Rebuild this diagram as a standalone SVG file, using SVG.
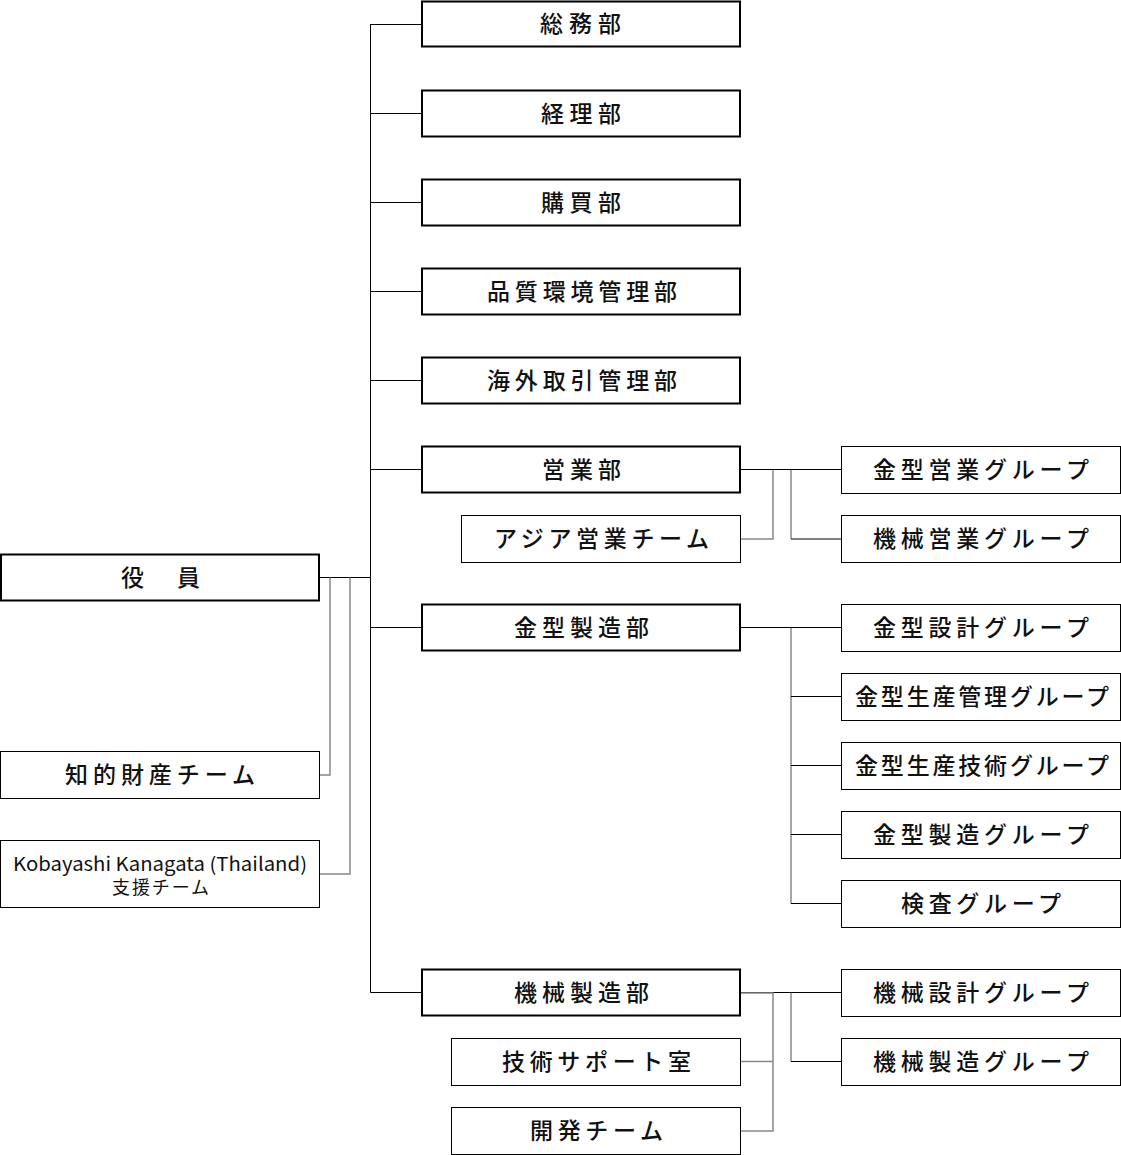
<svg xmlns="http://www.w3.org/2000/svg" width="1121" height="1155" viewBox="0 0 1121 1155">
<style>
.bg{fill:#fff}
.thick{fill:#fff;stroke:#000;stroke-width:2}
.thin{fill:#fff;stroke:#000;stroke-width:1}
.k{stroke:#000;stroke-width:1;fill:none}
.g{stroke:#888;stroke-width:1.5;fill:none}
text{font-family:"Noto Sans CJK JP","Noto Sans",sans-serif;font-size:23px;font-weight:500;fill:#111}
.s{font-size:18px;font-weight:400}
</style>
<rect class="bg" x="0" y="0" width="1121" height="1155"/>
<g id="connectors">
<line class="k" x1="370.5" y1="24" x2="370.5" y2="992.5"/>
<line class="k" x1="370.5" y1="24.5" x2="422" y2="24.5"/>
<line class="k" x1="370.5" y1="113.5" x2="422" y2="113.5"/>
<line class="k" x1="370.5" y1="202.5" x2="422" y2="202.5"/>
<line class="k" x1="370.5" y1="291.5" x2="422" y2="291.5"/>
<line class="k" x1="370.5" y1="380.5" x2="422" y2="380.5"/>
<line class="k" x1="370.5" y1="469.5" x2="422" y2="469.5"/>
<line class="k" x1="370.5" y1="627.5" x2="422" y2="627.5"/>
<line class="k" x1="370.5" y1="992.5" x2="422" y2="992.5"/>
<line class="k" x1="320" y1="577.5" x2="370.5" y2="577.5"/>
<polyline class="g" points="330,577.5 330,775 320,775"/>
<polyline class="g" points="350,577.5 350,874 320,874"/>
<line class="k" x1="741" y1="469.5" x2="841" y2="469.5"/>
<polyline class="g" points="773,470 773,539 741,539"/>
<line class="g" x1="791" y1="470" x2="791" y2="539"/>
<line class="k" x1="791" y1="539" x2="841" y2="539"/>
<line class="k" x1="741" y1="627.5" x2="841" y2="627.5"/>
<line class="g" x1="791" y1="628" x2="791" y2="903.5"/>
<line class="k" x1="791" y1="696.5" x2="841" y2="696.5"/>
<line class="k" x1="791" y1="765.5" x2="841" y2="765.5"/>
<line class="k" x1="791" y1="834.5" x2="841" y2="834.5"/>
<line class="k" x1="791" y1="903.5" x2="841" y2="903.5"/>
<line class="k" x1="741" y1="992.5" x2="841" y2="992.5"/>
<polyline class="g" points="741,993 773,993 773,1131 741,1131"/>
<line class="g" x1="741" y1="1061.5" x2="773" y2="1061.5"/>
<line class="g" x1="791" y1="993" x2="791" y2="1061.5"/>
<line class="k" x1="791" y1="1061.5" x2="841" y2="1061.5"/>
</g>
<g id="yakuin"><rect class="thick" x="1" y="554.5" width="318" height="46"/><text x="121" y="586" textLength="79" lengthAdjust="spacing">役　員</text></g>
<g id="chiteki"><rect class="thin" x="0.5" y="751.5" width="319" height="47"/><text x="65" y="783" textLength="190" lengthAdjust="spacing">知的財産チーム</text></g>
<g id="thailand"><rect class="thin" x="0.5" y="840.5" width="319" height="67"/><text class="s" x="160" y="871" text-anchor="middle" textLength="294" lengthAdjust="spacingAndGlyphs" style="font-size:19px">Kobayashi Kanagata (Thailand)</text><text class="s" x="112" y="894" textLength="97" lengthAdjust="spacing">支援チーム</text></g>
<g id="soumu"><rect class="thick" x="422" y="1.5" width="318" height="45"/><text x="540" y="32" textLength="81" lengthAdjust="spacing">総務部</text></g>
<g id="keiri"><rect class="thick" x="422" y="90.5" width="318" height="46"/><text x="541" y="121.5" textLength="80" lengthAdjust="spacing">経理部</text></g>
<g id="koubai"><rect class="thick" x="422" y="179.5" width="318" height="46"/><text x="541" y="210.5" textLength="80" lengthAdjust="spacing">購買部</text></g>
<g id="hinshitsu"><rect class="thick" x="422" y="268.5" width="318" height="46"/><text x="487" y="299.5" textLength="190" lengthAdjust="spacing">品質環境管理部</text></g>
<g id="kaigai"><rect class="thick" x="422" y="357.5" width="318" height="46"/><text x="487" y="388.5" textLength="190" lengthAdjust="spacing">海外取引管理部</text></g>
<g id="eigyo"><rect class="thick" x="422" y="446.5" width="318" height="46"/><text x="542" y="477.5" textLength="79" lengthAdjust="spacing">営業部</text></g>
<g id="asia"><rect class="thin" x="461.5" y="515.5" width="279" height="47"/><text x="494" y="547" textLength="215" lengthAdjust="spacing">アジア営業チーム</text></g>
<g id="kanagata"><rect class="thick" x="422" y="604.5" width="318" height="46"/><text x="514" y="635.5" textLength="135" lengthAdjust="spacing">金型製造部</text></g>
<g id="kikai"><rect class="thick" x="422" y="969.5" width="318" height="46"/><text x="514" y="1000.5" textLength="135" lengthAdjust="spacing">機械製造部</text></g>
<g id="gijutsu"><rect class="thin" x="451.5" y="1038.5" width="289" height="47"/><text x="502" y="1070" textLength="189" lengthAdjust="spacing">技術サポート室</text></g>
<g id="kaihatsu"><rect class="thin" x="451.5" y="1107.5" width="289" height="47"/><text x="530" y="1139" textLength="133" lengthAdjust="spacing">開発チーム</text></g>
<g id="kg-eigyo"><rect class="thin" x="841.5" y="446.5" width="279" height="47"/><text x="873" y="478" textLength="216" lengthAdjust="spacing">金型営業グループ</text></g>
<g id="kk-eigyo"><rect class="thin" x="841.5" y="515.5" width="279" height="47"/><text x="873" y="547" textLength="216" lengthAdjust="spacing">機械営業グループ</text></g>
<g id="kg-sekkei"><rect class="thin" x="841.5" y="604.5" width="279" height="47"/><text x="873" y="636" textLength="216" lengthAdjust="spacing">金型設計グループ</text></g>
<g id="kg-seisankanri"><rect class="thin" x="841.5" y="673.5" width="279" height="47"/><text x="855" y="705" textLength="254" lengthAdjust="spacing">金型生産管理グループ</text></g>
<g id="kg-seisangijutsu"><rect class="thin" x="841.5" y="742.5" width="279" height="47"/><text x="855" y="774" textLength="254" lengthAdjust="spacing">金型生産技術グループ</text></g>
<g id="kg-seizou"><rect class="thin" x="841.5" y="811.5" width="279" height="47"/><text x="873" y="843" textLength="216" lengthAdjust="spacing">金型製造グループ</text></g>
<g id="kensa"><rect class="thin" x="841.5" y="880.5" width="279" height="47"/><text x="901" y="912" textLength="160" lengthAdjust="spacing">検査グループ</text></g>
<g id="kk-sekkei"><rect class="thin" x="841.5" y="969.5" width="279" height="47"/><text x="873" y="1001" textLength="216" lengthAdjust="spacing">機械設計グループ</text></g>
<g id="kk-seizou"><rect class="thin" x="841.5" y="1038.5" width="279" height="47"/><text x="873" y="1070" textLength="216" lengthAdjust="spacing">機械製造グループ</text></g>
</svg>
